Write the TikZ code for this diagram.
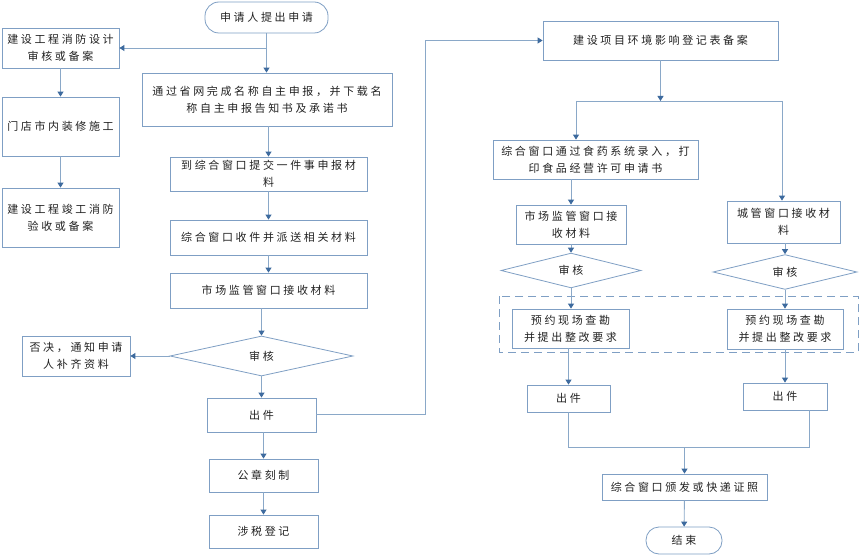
\documentclass[tikz,border=0pt]{standalone}
\usepackage{fontspec}
\newfontfamily\cjk[LetterSpace=24]{Noto Sans CJK SC}
\usetikzlibrary{shapes.geometric,arrows.meta,calc}
\definecolor{boxc}{HTML}{7F9FC4}
\definecolor{linec}{HTML}{8AA8C8}
\definecolor{arrc}{HTML}{3D6A9E}
\definecolor{txt}{HTML}{222222}
\begin{document}
\begin{tikzpicture}[x=1pt,y=-1pt,
  box/.style={draw=boxc, line width=0.8pt, inner sep=0pt, align=center, text=txt,
    font=\cjk\fontsize{11}{17}\selectfont},
  term/.style={box, rounded corners=14pt},
  dia/.style={box, shape=diamond},
  conn/.style={draw=linec, line width=0.9pt},
  arr/.style={conn, -{Triangle[length=5pt,width=6pt,color=arrc]}},
  dashbox/.style={draw=boxc, line width=0.8pt, dash pattern=on 8pt off 5pt}]
\fill[white] (0,0) rectangle (859,556);
\useasboundingbox (0,0) rectangle (859,556);
% left column
\node[term, minimum width=123pt, minimum height=31pt] (start) at (266.5,17.5) {申请人提出申请};
\node[box, minimum width=117pt, minimum height=40pt] (a1) at (60.5,48) {建设工程消防设计\\审核或备案};
\node[box, minimum width=117pt, minimum height=59pt] (a2) at (60.5,126.5) {门店市内装修施工};
\node[box, minimum width=117pt, minimum height=59pt] (a3) at (60.5,217.5) {建设工程竣工消防\\验收或备案};
\node[box, minimum width=250pt, minimum height=53pt] (b1) at (267,99.5) {通过省网完成名称自主申报，并下载名\\称自主申报告知书及承诺书};
\node[box, minimum width=197pt, minimum height=34pt] (b2) at (268.5,174) {到综合窗口提交一件事申报材\\料};
\node[box, minimum width=197pt, minimum height=35pt] (b3) at (268.5,237.5) {综合窗口收件并派送相关材料};
\node[box, minimum width=197pt, minimum height=35pt] (b4) at (268.5,290.5) {市场监管窗口接收材料};
\node[dia, minimum width=183pt, minimum height=40pt] (d1) at (261.5,356) {审核};
\node[box, minimum width=108pt, minimum height=40pt] (rej) at (76,356) {否决，通知申请\\人补齐资料};
\node[box, minimum width=109pt, minimum height=34pt] (e1) at (261.5,415) {出件};
\node[box, minimum width=109pt, minimum height=33pt] (g1) at (263.5,475.5) {公章刻制};
\node[box, minimum width=109pt, minimum height=33pt] (g2) at (263.5,531.5) {涉税登记};
% right part
\node[box, minimum width=235pt, minimum height=39pt] (c1) at (660.5,40.5) {建设项目环境影响登记表备案};
\node[box, minimum width=205pt, minimum height=39pt] (c2) at (595.5,159.5) {综合窗口通过食药系统录入，打\\印食品经营许可申请书};
\node[box, minimum width=110pt, minimum height=39pt] (c3) at (571,224.5) {市场监管窗口接\\收材料};
\node[box, minimum width=113pt, minimum height=42pt] (r1) at (783.5,222) {城管窗口接收材\\料};
\node[dia, minimum width=140pt, minimum height=29pt] (dl) at (571,270.5) {审核};
\node[dia, minimum width=144pt, minimum height=26pt] (dr) at (785,272) {审核};
\draw[dashbox] (499,296) rectangle (858,352);
\node[box, minimum width=117pt, minimum height=39pt] (pl) at (570.5,328.5) {预约现场查勘\\并提出整改要求};
\node[box, minimum width=116pt, minimum height=40pt] (pr) at (785,329) {预约现场查勘\\并提出整改要求};
\node[box, minimum width=83pt, minimum height=27pt] (ol) at (568.5,398.5) {出件};
\node[box, minimum width=84pt, minimum height=27pt] (or) at (785,396.5) {出件};
\node[box, minimum width=165pt, minimum height=26pt] (f1) at (684.5,487) {综合窗口颁发或快递证照};
\node[term, minimum width=76pt, minimum height=27pt, rounded corners=13pt] (end) at (684,540.5) {结束};
% junction coordinates
\coordinate (j0) at (266.5,48);
\coordinate (j1) at (660.5,101);
\coordinate (j1l) at (576,101);
\coordinate (j1r) at (782,101);
\coordinate (loopa) at (425,414);
\coordinate (loopb) at (425,40.5);
\coordinate (mL) at (568.5,447);
\coordinate (mR) at (809,447);
\coordinate (mC) at (684.5,447);
% connectors left
\draw[arr] (start.south) -- (b1.north -| start.south);
\draw[arr] (j0) -- (a1.east);
\draw[arr] (a1) -- (a2);
\draw[arr] (a2) -- (a3);
\draw[arr] (b1.south -| b2.north) -- (b2.north);
\draw[arr] (b2) -- (b3);
\draw[arr] (b3) -- (b4);
\draw[arr] (b4.south -| d1.north) -- (d1.north);
\draw[arr] (d1.west) -- (rej.east);
\draw[arr] (d1.south) -- (e1.north);
\draw[arr] (e1.south -| g1.north) -- (g1.north);
\draw[arr] (g1) -- (g2);
\draw[arr] (e1.east |- loopa) -- (loopa) -- (loopb) -- (c1.west);
% connectors right
\draw[arr] (c1.south) -- (j1);
\draw[conn] (j1l) -- (j1r);
\draw[arr] (j1l) -- (c2.north -| j1l);
\draw[arr] (j1r) -- (r1.north -| j1r);
\draw[arr] (c2.south -| c3.north) -- (c3.north);
\draw[arr] (c3) -- (dl);
\draw[arr] (r1.south -| dr.north) -- (dr.north);
\draw[arr] (dl.south) -- (pl.north -| dl.south);
\draw[arr] (dr.south) -- (pr.north);
\draw[arr] (pl.south -| ol.north) -- (ol.north);
\draw[arr] (pr) -- (or);
\draw[conn] (ol.south) -- (mL) -- (mR) -- (or.south -| mR);
\draw[arr] (mC) -- (f1.north);
\draw[arr] (f1) -- (end);
\end{tikzpicture}
\end{document}
